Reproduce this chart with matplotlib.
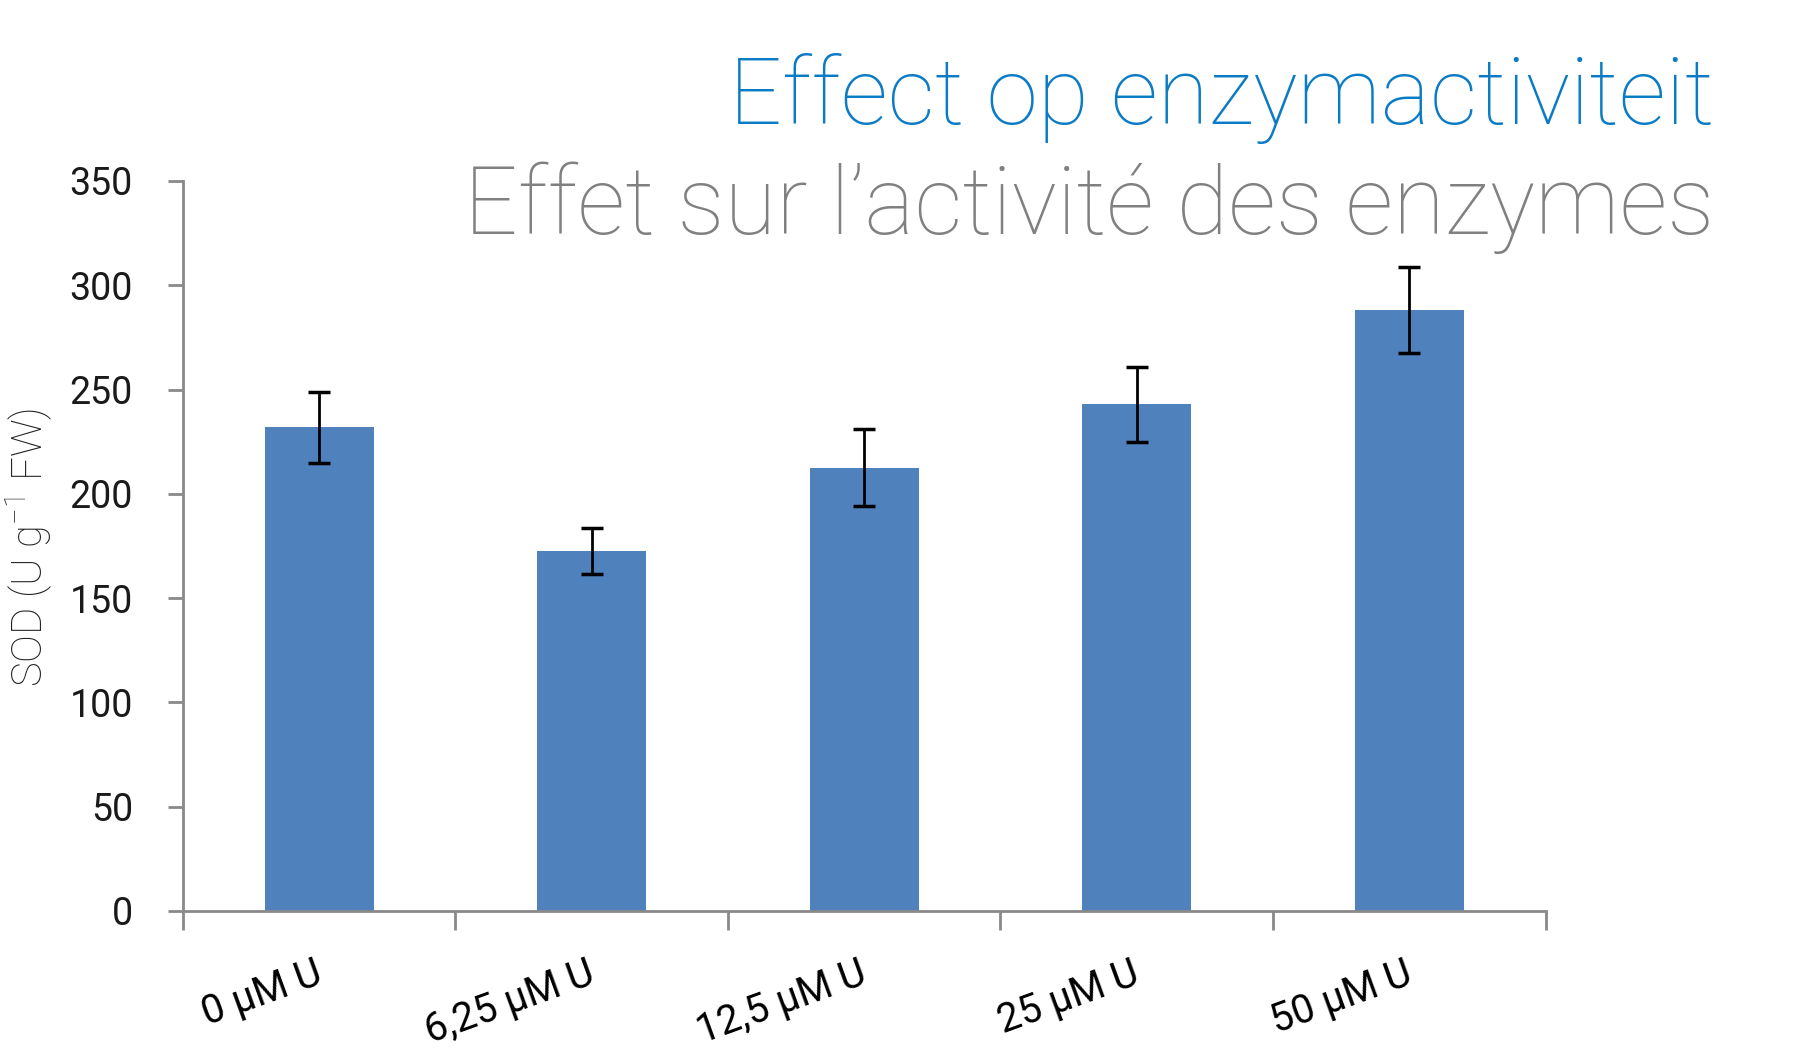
import matplotlib.pyplot as plt
import numpy as np

# data
categories = ["0 µM U", "6,25 µM U", "12,5 µM U", "25 µM U", "50 µM U"]
sod = [232, 172.5, 212.5, 243, 288]
sod_err = [17, 11, 18.5, 18, 20.5]

plt.rcParams['font.family'] = ['Roboto', 'DejaVu Sans']
plt.rcParams['font.weight'] = 'light'
plt.rcParams['mathtext.fontset'] = 'custom'
plt.rcParams['mathtext.rm'] = 'Roboto:light'

fig = plt.figure(figsize=(17.93, 10.55), dpi=100)
ax = fig.add_axes([0.102, 0.1365, 0.760, 0.692])

x = np.arange(len(categories))
ax.bar(x, sod, width=0.4, color="#4F81BD", zorder=2)
ax.errorbar(x, sod, yerr=sod_err, fmt="none", ecolor="black",
            elinewidth=2, capsize=8, capthick=2.5, zorder=3)

ax.set_xlim(-0.5, len(categories) - 0.5)
ax.set_ylim(0, 350)
ax.set_yticks(range(0, 351, 50))
ax.tick_params(axis="y", labelsize=27, length=11, width=2, color="#898989",
               labelcolor="#1a1a1a", pad=25, direction="out")
for t in ax.get_yticklabels():
    t.set_fontweight("normal")

# ticks at category boundaries, labels at centres
ax.set_xticks(np.arange(-0.5, len(categories), 1.0))
ax.set_xticklabels([])
ax.tick_params(axis="x", length=14, width=2, color="#898989", direction="out")
for i, lab in enumerate(categories):
    ax.annotate(lab, xy=(i, 0), xycoords=("data", "axes fraction"),
                xytext=(5, -72), textcoords="offset pixels",
                rotation=20, rotation_mode="anchor", ha="right", va="baseline",
                fontsize=28.5, fontweight="normal", color="black")

for side in ["top", "right"]:
    ax.spines[side].set_visible(False)
for side in ["left", "bottom"]:
    ax.spines[side].set_color("#898989")
    ax.spines[side].set_linewidth(2)

fig.text(0.0165, 0.481, "SOD (U g$^{\\mathrm{-1}}$ FW)", rotation=90, ha="center",
         va="center", fontsize=30, color="#222222")

fig.text(0.956, 1 - 124 / 1055, "Effect op enzymactiviteit", ha="right", va="baseline",
         fontsize=67, color="#0A7BC4")
fig.text(0.956, 1 - 234 / 1055, "Effet sur l\u2019activit\u00e9 des enzymes", ha="right",
         va="baseline", fontsize=68, color="#808080")

fig.savefig("out.png", dpi=100)
